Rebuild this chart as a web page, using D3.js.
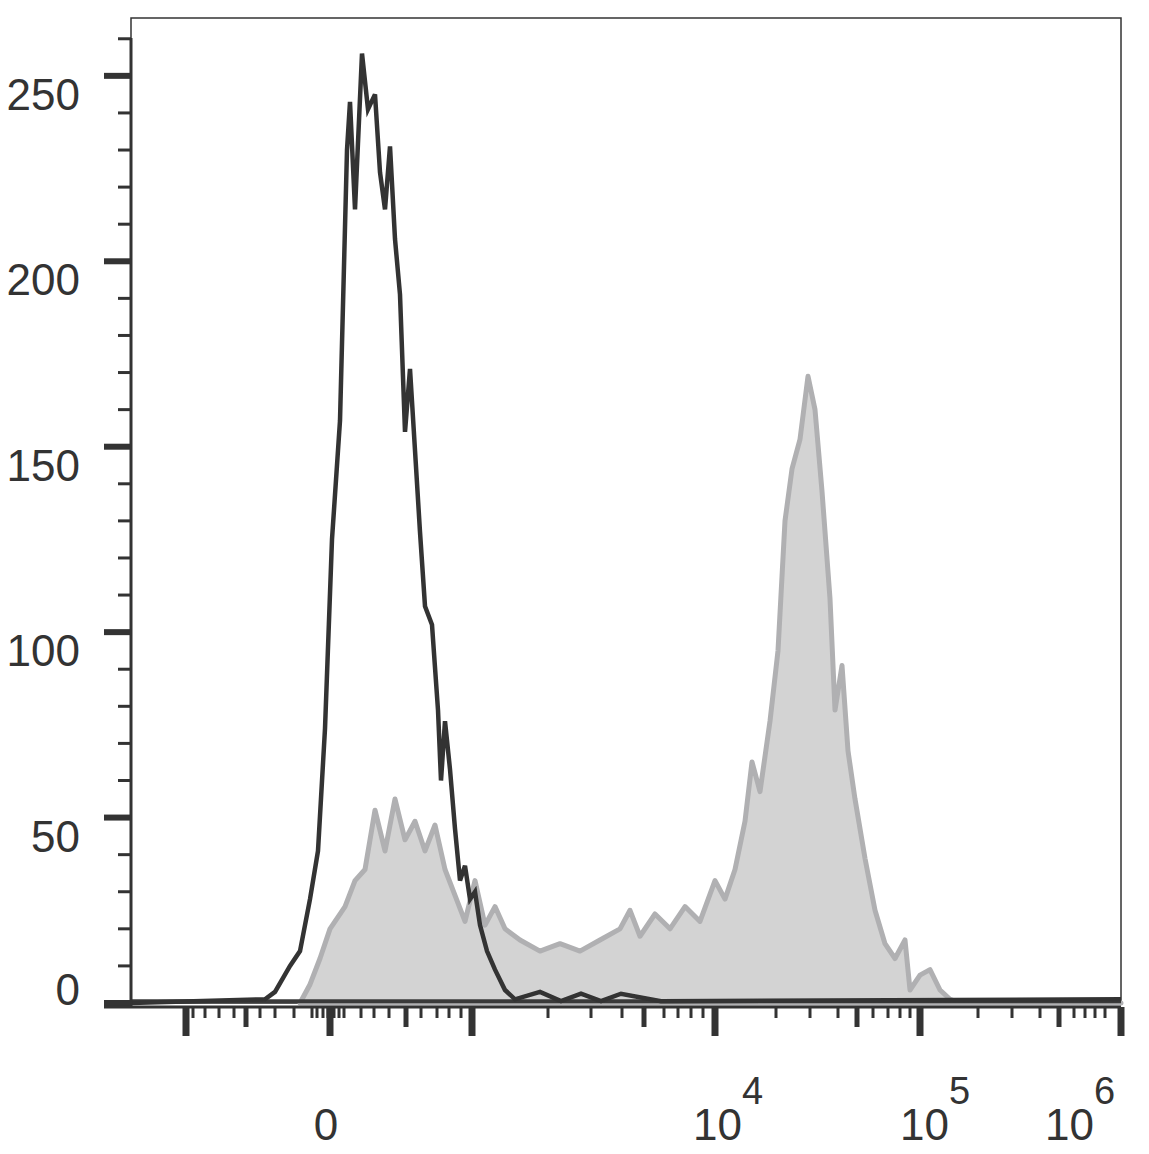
<!DOCTYPE html><html><head><meta charset="utf-8"><script src="https://cdn.jsdelivr.net/npm/d3@7"></script>
<style>body{margin:0;background:#fff}</style></head><body><svg id="c" width="1149" height="1154"></svg><script>
const darkX=[0,134,144,159,169,179,187,194,201,209,216,219,224,231,237,244,249,254,259,264,269,274,279,284,289,294,301,307,310,314,319,324,329,334,339,344,349,356,364,374,384,409,430,450,470,490,530,990];
const darkY=[0,1,3,10,14,28,41,74,125,157,230,243,214,256,241,245,224,214,231,206,191,154,171,149,127,107,102,79,60,76,63,47,33,37,28,30,21,14,9,3.5,1,3,0.5,2.5,0.5,2.5,0.5,1];
const grayX=[169,179,189,199,214,224,234,244,254,264,274,284,294,304,314,324,334,344,354,364,374,389,409,429,449,469,489,499,509,524,539,554,569,584,594,604,614,621,629,639,647,654,661,669,677,684,691,699,704,711,717,724,734,744,754,764,774,779,789,799,809,819,829,990];
const grayY=[0,5,12,20,26,33,36,52,41,55,44,49,41,48,36,29,22,33,21,26,20,17,14,16,14,17,20,25,18,24,20,26,22,33,28,36,49,65,57,76,95,130,144,152,169,160,138,109,79,91,68,55,39,25,16,12,17,3.5,7.5,9,3.5,1,0,0];
const yMajor=[0,50,100,150,200,250];
const yMinor=d3.range(0,270,10);
const xMajor=[55,199,341,584,789,990];
const xLabels=[{v:199,t:"0"},{v:584,t:"4"},{v:791,t:"5"},{v:990,t:"6"}];
const xMedium=[115,275,513,726,928];
const xMinor=[62,74,88,103,129,144,163,181,186,192,197,203,208,213,230,243,258,290,306,318,330,417,460,491,533,547,560,572,645,679,707,742,757,769,779,847,881,909,943,954,964,974];
const svg=d3.select("#c");
const L=131,R=1121,T=18,B=1003;
const x=d3.scaleLinear().domain([0,990]).range([L,R]);
const y=d3.scaleLinear().domain([0,265.6]).range([B,T]);
const F="Liberation Sans, Arial";
svg.append("rect").attr("x",L).attr("y",T).attr("width",R-L).attr("height",B-T).attr("fill","none").attr("stroke","#333").attr("stroke-width",1.5);
const pts=(X,Y)=>X.map((d,i)=>[d,Y[i]]);
svg.append("path").datum(pts(grayX,grayY)).attr("d",d3.area().x(d=>x(d[0])).y0(y(0)).y1(d=>y(d[1]))).attr("fill","#d3d3d3").attr("stroke","#b0b0b2").attr("stroke-width",5).attr("stroke-linejoin","round");
svg.append("line").attr("x1",x(0)).attr("x2",x(990)).attr("y1",y(0.5)).attr("y2",y(0.5)).attr("stroke","#3a3a3a").attr("stroke-width",4);
svg.append("path").datum(pts(darkX,darkY)).attr("d",d3.line().x(d=>x(d[0])).y(d=>y(d[1]))).attr("fill","none").attr("stroke","#333").attr("stroke-width",4.5);
svg.append("line").attr("x1",L).attr("x2",L).attr("y1",T+20).attr("y2",B+4).attr("stroke","#333").attr("stroke-width",3);
yMinor.forEach(v=>svg.append("line").attr("x1",118).attr("x2",L).attr("y1",y(v)).attr("y2",y(v)).attr("stroke","#333").attr("stroke-width",3));
yMajor.forEach(v=>{svg.append("line").attr("x1",104).attr("x2",L).attr("y1",y(v)).attr("y2",y(v)).attr("stroke","#333").attr("stroke-width",6);
 svg.append("text").attr("x",80).attr("y",v===0?y(v)+2:y(v)+34).attr("text-anchor","end").attr("font-family",F).attr("font-size",44).attr("fill","#333").text(v);});
const xa=B+4;
svg.append("line").attr("x1",104).attr("x2",x(990)).attr("y1",xa).attr("y2",xa).attr("stroke","#333").attr("stroke-width",3);
xMinor.forEach(v=>svg.append("line").attr("x1",x(v)).attr("x2",x(v)).attr("y1",xa).attr("y2",1018).attr("stroke","#333").attr("stroke-width",3));
xMedium.forEach(v=>svg.append("line").attr("x1",x(v)).attr("x2",x(v)).attr("y1",xa).attr("y2",1027).attr("stroke","#333").attr("stroke-width",5));
xMajor.forEach(v=>svg.append("line").attr("x1",x(v)).attr("x2",x(v)).attr("y1",xa).attr("y2",1036).attr("stroke","#333").attr("stroke-width",7));
const off={"4":-22,"5":-22,"6":-76};
xLabels.forEach(l=>{
 if(l.t==="0"){svg.append("text").attr("x",x(l.v)-4).attr("y",1140).attr("text-anchor","middle").attr("font-family",F).attr("font-size",44).attr("fill","#333").text("0");}
 else{const t=svg.append("text").attr("x",x(l.v)+off[l.t]).attr("y",1140).attr("font-family",F).attr("font-size",44).attr("fill","#333");
 t.append("tspan").text("10");t.append("tspan").attr("dy",-36).attr("font-size",38).text(l.t);}
});
</script></body></html>
